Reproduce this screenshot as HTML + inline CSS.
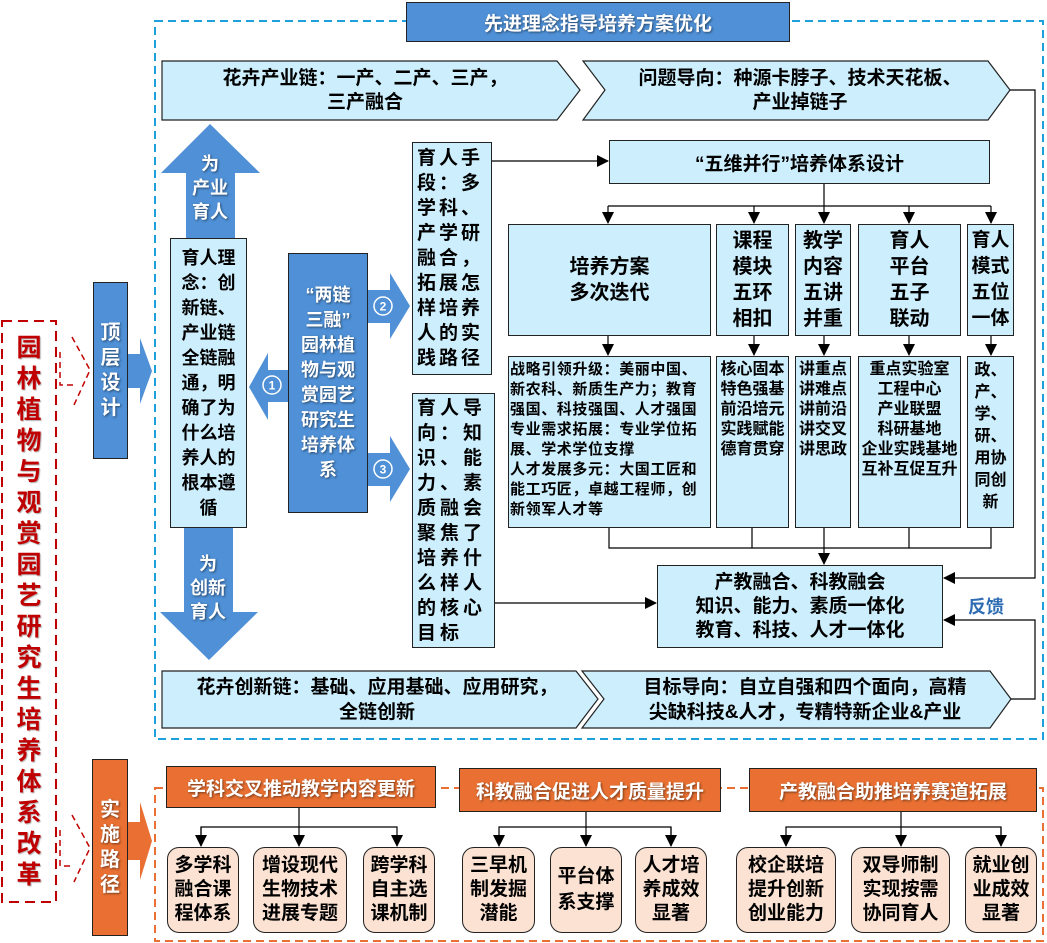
<!DOCTYPE html>
<html><head><meta charset="utf-8">
<style>
*{margin:0;padding:0;box-sizing:border-box}
body{width:1047px;height:943px;background:#fff;position:relative;overflow:hidden;font-family:"Liberation Sans","Noto Sans CJK SC",sans-serif;font-weight:bold;color:#000}
svg{position:absolute;left:0;top:0}
.t{position:absolute;display:flex;align-items:center;justify-content:center;text-align:center}
.w{color:#fff;text-shadow:1px 1px 2px rgba(0,0,0,.5)}
.lb{background:#cdeefc;border:1.5px solid #222}
.pk{background:#fbe2d2;border:1.5px solid #222;border-radius:12px}
.og{background:#e97032;border:1.5px solid #222}
</style></head><body>
<svg width="1047" height="943">
<defs>
<marker id="b" markerWidth="12" markerHeight="12" refX="11" refY="6" orient="auto" markerUnits="userSpaceOnUse"><path d="M0,0 L12,6 L0,12z" fill="#000"/></marker>
</defs>
<rect x="155" y="21" width="888" height="718" fill="none" stroke="#1ea0dc" stroke-width="2" stroke-dasharray="8,5"/>
<rect x="155" y="788" width="888" height="153" fill="none" stroke="#e97032" stroke-width="2" stroke-dasharray="8,5"/>
<rect x="2" y="321" width="54" height="581" fill="none" stroke="#c00000" stroke-width="2" stroke-dasharray="10,6"/>
<g fill="none" stroke="#c00000" stroke-width="1.5" stroke-dasharray="6,4">
<polyline points="60,352 60,385 74,385"/><polyline points="72,337 90,370 74,405"/>
<polyline points="60,830 60,866 74,866"/><polyline points="72,815 90,848 74,882"/>
</g>
<g fill="#cdeefc" stroke="#222" stroke-width="1.2">
<polygon points="162,61 557,61 580,90 557,120 162,120"/>
<polygon points="583,61 988,61 1010,90 988,120 583,120 605,90"/>
<polygon points="162,671 576,671 598,699 576,728 162,728"/>
<polygon points="582,671 990,671 1011,699 990,728 582,728 604,699"/>
</g>
<g fill="#4f90d6">
<polygon points="210,124 260,173 235,173 235,238 186,238 186,173 161,173"/>
<polygon points="184,528 233,528 233,612 258,612 209,660 160,612 184,612"/>
<polygon points="249,387 268,353 268,370 290,370 290,402 268,402 268,420"/>
<polygon points="366,290 390,290 390,273 410,306 390,339 390,323 366,323"/>
<polygon points="366,453 390,453 390,436 410,469 390,502 390,486 366,486"/>
<polygon points="126,354 140,354 140,338 152,371 140,404 140,388 126,388"/>
</g>
<polygon points="126,822 140,822 140,802 152,841 140,880 140,860 126,860" fill="#e97032"/>
<g fill="none" stroke="#fff" stroke-width="1.5">
<circle cx="272" cy="385" r="9"/><circle cx="383" cy="306" r="9"/><circle cx="383" cy="469" r="9"/>
</g>
<g fill="#fff" font-size="12" font-family="Liberation Sans,sans-serif" font-weight="bold" text-anchor="middle">
<text x="272" y="389.5">1</text><text x="383" y="310.5">2</text><text x="383" y="473.5">3</text>
</g>
<g fill="none" stroke="#000" stroke-width="1.2">
<line x1="492" y1="161" x2="608" y2="161" marker-end="url(#b)"/>
<line x1="824" y1="184" x2="824" y2="206"/>
<line x1="608" y1="206" x2="991" y2="206"/>
<line x1="608" y1="206" x2="608" y2="223" marker-end="url(#b)"/>
<line x1="754" y1="206" x2="754" y2="223" marker-end="url(#b)"/>
<line x1="824" y1="206" x2="824" y2="223" marker-end="url(#b)"/>
<line x1="909" y1="206" x2="909" y2="223" marker-end="url(#b)"/>
<line x1="991" y1="206" x2="991" y2="223" marker-end="url(#b)"/>
<line x1="608" y1="336" x2="608" y2="355" marker-end="url(#b)"/>
<line x1="754" y1="336" x2="754" y2="355" marker-end="url(#b)"/>
<line x1="824" y1="336" x2="824" y2="355" marker-end="url(#b)"/>
<line x1="909" y1="336" x2="909" y2="355" marker-end="url(#b)"/>
<line x1="991" y1="336" x2="991" y2="355" marker-end="url(#b)"/>
<polyline points="609,528 609,548 991,548 991,528"/>
<line x1="752" y1="528" x2="752" y2="548"/>
<line x1="909" y1="528" x2="909" y2="548"/>
<line x1="824" y1="528" x2="824" y2="564" marker-end="url(#b)"/>
<line x1="495" y1="603" x2="656" y2="603" marker-end="url(#b)"/>
<polyline points="1010,90 1035,90 1035,578 944,578" marker-end="url(#b)"/>
<polyline points="1011,699 1035,699 1035,620 944,620" marker-end="url(#b)"/>
<line x1="299" y1="808" x2="299" y2="846" marker-end="url(#b)"/>
<polyline points="201,846 201,827 397,827 397,846" marker-end="url(#b)"/>
<line x1="201" y1="827" x2="201" y2="846" marker-end="url(#b)"/>
<line x1="586" y1="812" x2="586" y2="846" marker-end="url(#b)"/>
<polyline points="671,846 671,827 499,827 499,846" marker-end="url(#b)"/>
<line x1="671" y1="827" x2="671" y2="846" marker-end="url(#b)"/>
<line x1="901" y1="812" x2="901" y2="846" marker-end="url(#b)"/>
<polyline points="1001,846 1001,827 786,827 786,846" marker-end="url(#b)"/>
<line x1="1001" y1="827" x2="1001" y2="846" marker-end="url(#b)"/>
</g>
</svg>

<div class="t w" style="left:406px;top:2px;width:384px;height:40px;background:#4f90d6;border:1.5px solid #222;font-size:19px">先进理念指导培养方案优化</div>
<div class="t" style="left:165px;top:62px;width:400px;height:58px;font-size:19px;line-height:24px">花卉产业链：一产、二产、三产，<br>三产融合</div>
<div class="t" style="left:595px;top:62px;width:410px;height:58px;font-size:19px;line-height:24px">问题导向：种源卡脖子、技术天花板、<br>产业掉链子</div>
<div class="t" style="left:162px;top:672px;width:430px;height:56px;font-size:19px;line-height:25px">花卉创新链：基础、应用基础、应用研究，<br>全链创新</div>
<div class="t" style="left:600px;top:672px;width:410px;height:56px;font-size:19px;line-height:25px">目标导向：自立自强和四个面向，高精<br>尖缺科技&amp;人才，专精特新企业&amp;产业</div>

<div class="t" style="left:2px;top:321px;width:54px;height:581px;color:#c00000;font-size:25px;line-height:31px;text-shadow:1px 1px 1px rgba(0,0,0,.3)">园<br>林<br>植<br>物<br>与<br>观<br>赏<br>园<br>艺<br>研<br>究<br>生<br>培<br>养<br>体<br>系<br>改<br>革</div>
<div class="t w" style="left:93px;top:282px;width:35px;height:177px;background:#4f90d6;border:1.5px solid #222;font-size:20px;line-height:25px">顶<br>层<br>设<br>计</div>
<div class="t w" style="left:92px;top:759px;width:36px;height:177px;background:#e97032;border:1.5px solid #222;font-size:20px;line-height:25px">实<br>施<br>路<br>径</div>
<div class="t w" style="left:180px;top:150px;width:60px;height:75px;font-size:18px;line-height:24px">为<br>产业<br>育人</div>
<div class="t w" style="left:178px;top:550px;width:60px;height:75px;font-size:18px;line-height:24px">为<br>创新<br>育人</div>
<div class="t lb" style="left:170px;top:238px;width:77px;height:290px;font-size:18px;line-height:25px">育人理<br>念：创<br>新链、<br>产业链<br>全链融<br>通，明<br>确了为<br>什么培<br>养人的<br>根本遵<br>循</div>
<div class="t w" style="left:288px;top:253px;width:80px;height:260px;background:#4f90d6;border:1.5px solid #222;font-size:18px;line-height:25px">“两链<br>三融”<br>园林植<br>物与观<br>赏园艺<br>研究生<br>培养体<br>系</div>
<div class="t lb" style="left:412px;top:142px;width:80px;height:233px;font-size:19px;line-height:25px;letter-spacing:3px;text-align:left;justify-content:flex-start;padding-left:4px">育人手<br>段：多<br>学科、<br>产学研<br>融合，<br>拓展怎<br>样培养<br>人的实<br>践路径</div>
<div class="t lb" style="left:412px;top:393px;width:83px;height:255px;font-size:19px;line-height:25px;letter-spacing:4px;text-align:left;justify-content:flex-start;padding-left:4px">育人导<br>向：知<br>识、能<br>力、素<br>质融会<br>聚焦了<br>培养什<br>么样人<br>的核心<br>目标</div>

<div class="t lb" style="left:609px;top:140px;width:381px;height:44px;font-size:19px">“五维并行”培养体系设计</div>
<div class="t lb" style="left:508px;top:224px;width:203px;height:112px;font-size:20px;line-height:26px">培养方案<br>多次迭代</div>
<div class="t lb" style="left:716px;top:224px;width:73px;height:112px;font-size:20px;line-height:26px">课程<br>模块<br>五环<br>相扣</div>
<div class="t lb" style="left:795px;top:224px;width:56px;height:112px;font-size:20px;line-height:26px">教学<br>内容<br>五讲<br>并重</div>
<div class="t lb" style="left:858px;top:224px;width:103px;height:112px;font-size:20px;line-height:26px">育人<br>平台<br>五子<br>联动</div>
<div class="t lb" style="left:967px;top:224px;width:47px;height:112px;font-size:19px;line-height:26px">育人<br>模式<br>五位<br>一体</div>

<div class="t lb" style="left:508px;top:356px;width:203px;height:172px;font-size:15px;line-height:20px;text-align:left;justify-content:flex-start;align-items:flex-start;padding:3px 0 0 1px;letter-spacing:.6px;white-space:nowrap">战略引领升级：美丽中国、<br>新农科、新质生产力；教育<br>强国、科技强国、人才强国<br>专业需求拓展：专业学位拓<br>展、学术学位支撑<br>人才发展多元：大国工匠和<br>能工巧匠，卓越工程师，创<br>新领军人才等</div>
<div class="t lb" style="left:716px;top:356px;width:73px;height:172px;font-size:16px;line-height:20px;align-items:flex-start;padding-top:3px">核心固本<br>特色强基<br>前沿培元<br>实践赋能<br>德育贯穿</div>
<div class="t lb" style="left:795px;top:356px;width:56px;height:172px;font-size:16px;line-height:20px;align-items:flex-start;padding-top:3px">讲重点<br>讲难点<br>讲前沿<br>讲交叉<br>讲思政</div>
<div class="t lb" style="left:858px;top:356px;width:103px;height:172px;font-size:16px;line-height:20px;align-items:flex-start;padding-top:3px">重点实验室<br>工程中心<br>产业联盟<br>科研基地<br>企业实践基地<br>互补互促互升</div>
<div class="t lb" style="left:967px;top:356px;width:47px;height:172px;font-size:16px;line-height:22px;align-items:flex-start;padding-top:3px">政、<br>产、<br>学、<br>研、<br>用协<br>同创<br>新</div>

<div class="t lb" style="left:657px;top:565px;width:286px;height:83px;font-size:19px;line-height:24px">产教融合、科教融会<br>知识、能力、素质一体化<br>教育、科技、人才一体化</div>
<div class="t" style="left:960px;top:592px;width:52px;height:28px;font-size:18px;color:#2e6db4">反馈</div>

<div class="t w og" style="left:166px;top:766px;width:270px;height:42px;font-size:19px">学科交叉推动教学内容更新</div>
<div class="t w og" style="left:459px;top:768px;width:262px;height:44px;font-size:19px">科教融合促进人才质量提升</div>
<div class="t w og" style="left:749px;top:768px;width:288px;height:44px;font-size:19px">产教融合助推培养赛道拓展</div>

<div class="t pk" style="left:167px;top:847px;width:72px;height:86px;font-size:19px;line-height:24px">多学科<br>融合课<br>程体系</div>
<div class="t pk" style="left:253px;top:847px;width:94px;height:86px;font-size:19px;line-height:24px">增设现代<br>生物技术<br>进展专题</div>
<div class="t pk" style="left:363px;top:847px;width:72px;height:86px;font-size:19px;line-height:24px">跨学科<br>自主选<br>课机制</div>
<div class="t pk" style="left:462px;top:847px;width:73px;height:86px;font-size:19px;line-height:24px">三早机<br>制发掘<br>潜能</div>
<div class="t pk" style="left:550px;top:847px;width:72px;height:86px;font-size:19px;line-height:26px">平台体<br>系支撑</div>
<div class="t pk" style="left:635px;top:847px;width:72px;height:86px;font-size:19px;line-height:24px">人才培<br>养成效<br>显著</div>
<div class="t pk" style="left:736px;top:847px;width:100px;height:86px;font-size:19px;line-height:24px">校企联培<br>提升创新<br>创业能力</div>
<div class="t pk" style="left:851px;top:847px;width:99px;height:86px;font-size:19px;line-height:24px">双导师制<br>实现按需<br>协同育人</div>
<div class="t pk" style="left:965px;top:847px;width:72px;height:86px;font-size:19px;line-height:24px">就业创<br>业成效<br>显著</div>
</body></html>
